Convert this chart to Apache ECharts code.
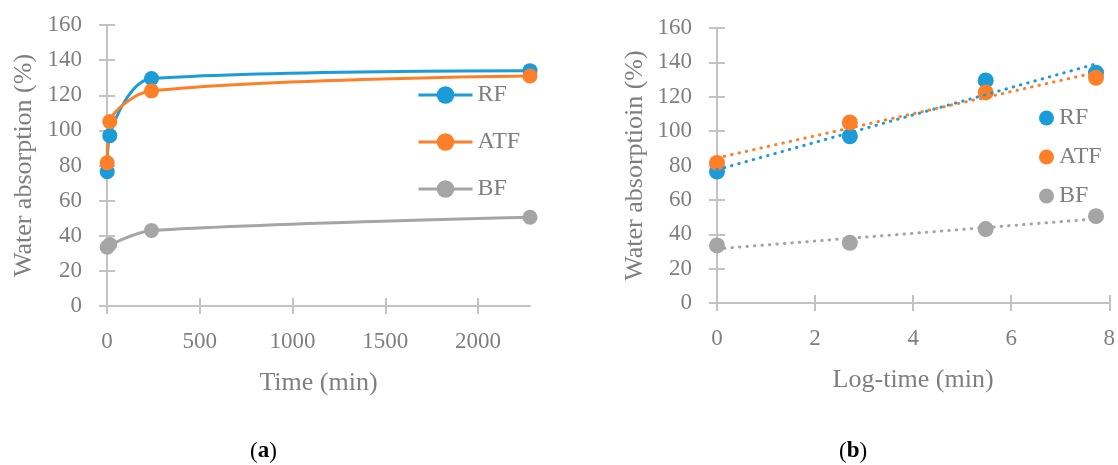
<!DOCTYPE html>
<html>
<head>
<meta charset="utf-8">
<script src="https://cdn.jsdelivr.net/npm/echarts@6/dist/echarts.min.js"></script>
<style>
html,body{margin:0;padding:0;background:#fff;}
#chart{width:1118px;height:465px;}
</style>
</head>
<body>
<div id="chart"></div>
<script>
// ---- data ----
const seriesNames = ['RF', 'ATF', 'BF'];
const timeMin = [1, 15, 240, 2280];
const logTime = [0, 2.71, 5.48, 7.73];
const rfValues = [76.5, 97, 129.5, 134];
const atfValues = [81.5, 105, 122.5, 131];
const bfValues = [33.5, 35, 43, 50.5];
const timeTicks = [0, 500, 1000, 1500, 2000];
const yTicks = [0, 20, 40, 60, 80, 100, 120, 140, 160];
const logTicks = [0, 2, 4, 6, 8];

const colors = ['#1b9bd7', '#fd7f28', '#a5a5a5'];
const txt = '#7f7f7f';
const axisCol = '#c3c3c3';
const FONT = 'Liberation Serif';
const values = [rfValues, atfValues, bfValues];

function pairs(xs, ys) { return xs.map((x, i) => [x, ys[i]]); }
function linFit(xs, ys) {
  const n = xs.length;
  const mx = xs.reduce((a, b) => a + b, 0) / n;
  const my = ys.reduce((a, b) => a + b, 0) / n;
  let sxy = 0, sxx = 0;
  for (let i = 0; i < n; i++) { sxy += (xs[i] - mx) * (ys[i] - my); sxx += (xs[i] - mx) ** 2; }
  const b = sxy / sxx, a = my - b * mx;
  const x0 = Math.min(...xs), x1 = Math.max(...xs);
  return [[x0, a + b * x0], [x1, a + b * x1]];
}

const plain = v => String(v);
const tickLabel = { color: txt, fontFamily: FONT, fontSize: 23, formatter: plain };
const nameStyle = { color: txt, fontFamily: FONT, fontSize: 26 };
const yMin = yTicks[0], yMax = yTicks[yTicks.length - 1], yStep = yTicks[1] - yTicks[0];
const tMax = Math.max(...timeMin);

function yAxisPair(gridIndex, name, gap) {
  return [
    { type: 'value', gridIndex, min: yMin, max: yMax, interval: yStep, position: 'left',
      name, nameLocation: 'middle', nameGap: gap, nameTextStyle: nameStyle,
      axisLine: { show: true, lineStyle: { color: axisCol, width: 2 } },
      axisTick: { show: true, length: 8, lineStyle: { color: axisCol, width: 2 } },
      axisLabel: Object.assign({ margin: 25 }, tickLabel),
      splitLine: { show: false } },
    { type: 'value', gridIndex, min: yMin, max: yMax, interval: yStep, position: 'left',
      axisLine: { show: false },
      axisTick: { show: true, inside: true, length: 8, lineStyle: { color: axisCol, width: 2 } },
      axisLabel: { show: false }, splitLine: { show: false } }
  ];
}

const option = {
  animation: false,
  backgroundColor: '#ffffff',
  grid: [
    { left: 107, top: 25, width: 423, height: 281 },
    { left: 717, top: 28, width: 398, height: 275 }
  ],
  xAxis: [
    { type: 'value', gridIndex: 0, min: 0, max: tMax, position: 'bottom',
      name: 'Time (min)', nameLocation: 'middle', nameGap: 64, nameTextStyle: nameStyle,
      axisLine: { show: true, onZero: false, lineStyle: { color: axisCol, width: 2 } },
      axisTick: { show: true, length: 8, customValues: timeTicks, lineStyle: { color: axisCol, width: 2 } },
      axisLabel: Object.assign({ margin: 24, customValues: timeTicks }, tickLabel),
      splitLine: { show: false } },
    { type: 'value', gridIndex: 0, min: 0, max: tMax, position: 'bottom',
      axisLine: { show: false, onZero: false },
      axisTick: { show: true, inside: true, length: 8, customValues: timeTicks, lineStyle: { color: axisCol, width: 2 } },
      axisLabel: { show: false }, splitLine: { show: false } },
    { type: 'value', gridIndex: 1, min: logTicks[0], max: logTicks[logTicks.length - 1], interval: logTicks[1] - logTicks[0], position: 'bottom',
      name: 'Log-time (min)', nameLocation: 'middle', nameGap: 64, nameTextStyle: nameStyle,
      axisLine: { show: true, onZero: false, lineStyle: { color: axisCol, width: 2 } },
      axisTick: { show: true, length: 8, lineStyle: { color: axisCol, width: 2 } },
      axisLabel: Object.assign({ margin: 24, showMaxLabel: true }, tickLabel),
      splitLine: { show: false } },
    { type: 'value', gridIndex: 1, min: logTicks[0], max: logTicks[logTicks.length - 1], interval: logTicks[1] - logTicks[0], position: 'bottom',
      axisLine: { show: false, onZero: false },
      axisTick: { show: true, inside: true, length: 8, lineStyle: { color: axisCol, width: 2 } },
      axisLabel: { show: false }, splitLine: { show: false } }
  ],
  yAxis: [].concat(yAxisPair(0, 'Water absorption (%)', 70), yAxisPair(1, 'Water absorptioin (%)', 69)),
  legend: [
    { data: seriesNames, orient: 'vertical', left: 412, top: 78, itemGap: 23,
      itemWidth: 54, itemHeight: 22, selectedMode: false,
      lineStyle: { width: 3 },
      textStyle: { color: txt, fontFamily: FONT, fontSize: 24 } },
    { data: seriesNames.map(n => n + ' b'), orient: 'vertical', left: 1034, top: 101, itemGap: 15,
      itemWidth: 15, itemHeight: 15, icon: 'circle', selectedMode: false,
      formatter: n => n.replace(' b', ''),
      textStyle: { color: txt, fontFamily: FONT, fontSize: 24 } }
  ],
  series: [],
  graphic: [
    { type: 'text', left: 250, top: 440, style: { text: '{p|(}{b|a}{p|)}', rich: { p: { fontFamily: FONT, fontSize: 23, fill: '#000' }, b: { fontFamily: FONT, fontSize: 23, fontWeight: 'bold', fill: '#000' } } } },
    { type: 'text', left: 839, top: 440, style: { text: '{p|(}{b|b}{p|)}', rich: { p: { fontFamily: FONT, fontSize: 23, fill: '#000' }, b: { fontFamily: FONT, fontSize: 23, fontWeight: 'bold', fill: '#000' } } } }
  ]
};

seriesNames.forEach((n, i) => {
  option.series.push({
    name: n, type: 'line', xAxisIndex: 0, yAxisIndex: 0, smooth: 0.3,
    data: pairs(timeMin, values[i]), symbol: 'circle', symbolSize: 15,
    color: colors[i], lineStyle: { width: 3, color: colors[i] }, itemStyle: { color: colors[i] }
  });
});
seriesNames.forEach((n, i) => {
  option.series.push({
    name: n + ' b', type: 'scatter', xAxisIndex: 2, yAxisIndex: 2,
    data: pairs(logTime, values[i]), symbol: 'circle', symbolSize: 16,
    itemStyle: { color: colors[i], opacity: 1 }, color: colors[i]
  });
});
seriesNames.forEach((n, i) => {
  option.series.push({
    name: n + ' trend', type: 'line', xAxisIndex: 2, yAxisIndex: 2,
    data: linFit(logTime, values[i]), showSymbol: false, symbol: 'none', z: 3,
    lineStyle: { width: 3, color: colors[i], type: [0.5, 7], cap: 'round' }
  });
});

const chart = echarts.init(document.getElementById('chart'), null, { renderer: 'canvas' });
chart.setOption(option);
</script>
</body>
</html>
